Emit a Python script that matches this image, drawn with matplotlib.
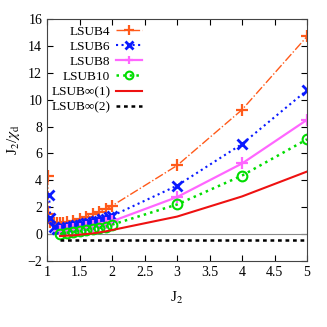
import numpy as np
from matplotlib import pyplot as plt

plt.rcParams['font.family'] = ['Liberation Serif', 'DejaVu Serif']
plt.rcParams['mathtext.fontset'] = 'stix'

# данные
x4 = [1.01, 1.02, 1.05, 1.1, 1.15, 1.2, 1.25, 1.3, 1.4, 1.5, 1.6, 1.7, 1.8, 1.9, 2.0, 3.0, 4.0, 5.0]
y4 = [4.3, 1.5, 0.9, 0.8, 0.8, 0.8, 0.85, 0.9, 1.0, 1.1, 1.3, 1.5, 1.65, 1.85, 2.1, 5.1, 9.25, 14.7]

x6 = [1.03, 1.05, 1.1, 1.15, 1.2, 1.25, 1.3, 1.35, 1.4, 1.45, 1.5, 1.55, 1.6, 1.65, 1.7, 1.75,
      1.8, 1.85, 1.9, 1.95, 2.0, 3.0, 4.0, 5.0]
y6 = [2.9, 1.2, 0.5, 0.4, 0.4, 0.45, 0.5, 0.55, 0.6, 0.65, 0.7, 0.75, 0.8, 0.85, 0.9, 0.95,
      1.0, 1.1, 1.15, 1.25, 1.35, 3.6, 6.7, 10.7]

x8 = [1.2, 1.3, 1.4, 1.5, 1.6, 1.7, 1.8, 1.9, 2.0, 3.0, 4.0, 5.0]
y8 = [0.25, 0.3, 0.35, 0.4, 0.5, 0.6, 0.7, 0.8, 0.95, 2.75, 5.25, 8.5]

x10 = [1.2, 1.3, 1.4, 1.5, 1.6, 1.7, 1.8, 1.9, 2.0, 3.0, 4.0, 5.0]
y10 = [0.0, 0.1, 0.15, 0.2, 0.3, 0.4, 0.45, 0.55, 0.7, 2.2, 4.35, 7.05]

xinf1 = [1.2, 1.3, 1.4, 1.5, 1.6, 1.7, 1.8, 1.9, 2.0, 3.0, 4.0, 5.0]
yinf1 = [-0.15, -0.12, -0.1, -0.05, 0.0, 0.05, 0.12, 0.2, 0.3, 1.3, 2.8, 4.65]

xinf2 = [1.2, 1.5, 2.0, 3.0, 4.0, 5.0]
yinf2 = [-0.45, -0.45, -0.45, -0.45, -0.45, -0.45]

fig = plt.figure(figsize=(3.27, 3.27), dpi=100)
ax = fig.add_axes([0.144, 0.202, 0.795, 0.74])

ax.axhline(0, color='#888888', lw=0.8)

ax.plot(x4, y4, color='#ff5a1a', ls='-.', lw=1.0, marker='+', ms=9, mew=1.6, label='LSUB4')
ax.plot(x6, y6, color='#0a1aff', ls=':', lw=1.5, marker='x', ms=7, mew=2.0, label='LSUB6')
ax.plot(x8, y8, color='#ff66ff', ls='-', lw=1.6, marker='+', ms=8, mew=1.6, label='LSUB8')
ax.plot(x10, y10, color='#00dd00', ls=':', lw=1.8, marker='o', ms=7, mfc='none', mew=1.5,
        label='LSUB10')
ax.plot(xinf1, yinf1, color='#ee1111', ls='-', lw=1.5, label='LSUB\u221e(1)')
ax.plot(xinf2, yinf2, color='black', ls=(0, (1.5, 1.5)), lw=1.8, label='LSUB\u221e(2)')

ax.set_xlim(1, 5)
ax.set_ylim(-2, 16)
ax.set_xticks(np.arange(1, 5.01, 0.5))
ax.set_xticklabels(['1', '1.5', '2', '2.5', '3', '3.5', '4', '4.5', '5'])
ax.set_yticks(range(-2, 17, 2))
ax.set_yticklabels(['\u22122', '0', '2', '4', '6', '8', '10', '12', '14', '16'])
ax.tick_params(direction='in', top=True, right=True, labelsize=10, length=4)
for s in ax.spines.values():
    s.set_color('#444444')

ax.set_xlabel(r'J$_2$', fontsize=11, labelpad=8)
ax.set_ylabel(r'J$_2$/$\chi_{\rm d}$', fontsize=11)

ax.legend(loc='upper right', frameon=False, markerfirst=False, fontsize=9.5,
          handlelength=2.0, handletextpad=0.4, labelspacing=0.22, borderaxespad=0.0,
          borderpad=0.3, markerscale=0.8, bbox_to_anchor=(0.38, 0.99))

plt.savefig('out.png', dpi=100)
